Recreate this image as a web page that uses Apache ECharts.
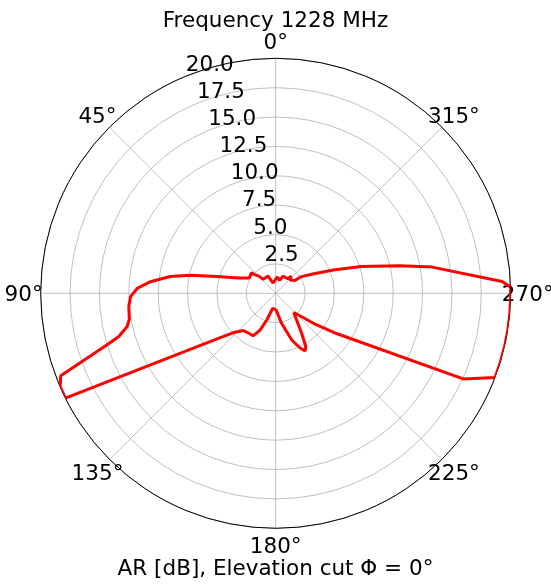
<!DOCTYPE html>
<html>
<head>
<meta charset="utf-8">
<script src="https://cdn.jsdelivr.net/npm/echarts@6/dist/echarts.min.js"></script>
<style>
html,body{margin:0;padding:0;background:#ffffff;}
#c{width:551px;height:584px;}
</style>
</head>
<body>
<div id="c"></div>
<script>
// Elevation angle (deg, counter-clockwise from top) and axial ratio (dB), clipped at 20
const angles = [0, 14, 24, 42, 44.5, 48.5, 50, 53, 60, 68, 74, 78, 81, 84.7, 88, 91.3, 95, 100, 102.6, 105.4, 107, 111, 113.5, 116.5,
  128.5, 133, 139, 145.5, 152, 157, 161.5, 169, 181, 191, 199, 204, 207, 209.5, 213, 218, 223.5, 231.5, 236.5, 245.5,
  249, 253, 257, 261, 265, 268.5, 271.5, 273, 279.5, 282.5, 287.5, 292, 297, 303, 304, 313, 318, 320, 337, 343, 354, 360];
const arValues = [1.2, 0.9, 1.6, 1.6, 2.05, 2.4, 2.7, 2.8, 2.6, 3.45, 5.2, 7.4, 9.1, 10.7, 11.8, 12.35, 12.55, 12.65, 12.95, 13.85, 15.0, 19.6, 20, 20,
  6.1, 4.9, 4.2, 4.1, 4.1, 3.4, 2.4, 1.3, 1.4, 2.6, 4.2, 5.1, 5.5, 5.2, 4.05, 2.9, 2.25, 4.1, 6.2, 17.6,
  20, 20, 20, 20, 20, 20, 20, 19.3, 13.5, 10.8, 7.6, 5.3, 3.65, 2.6, 1.95, 1.65, 1.97, 1.62, 1.59, 1.15, 1.39, 1.2];

const angleTicks = [0, 45, 90, 135, 180, 225, 270, 315];
const angleTickLabels = ['0°', '45°', '90°', '135°', '180°', '225°', '270°', '315°'];
const radiusTicks = [2.5, 5, 7.5, 10, 12.5, 15, 17.5, 20];
const radiusTickLabels = ['2.5', '5.0', '7.5', '10.0', '12.5', '15.0', '17.5', '20.0'];
const titleText = 'Frequency 1228 MHz';
const xLabelText = 'AR [dB], Elevation cut Φ = 0°';

const FONT = 'DejaVu Sans';
const FS = 21.5;
const CENTER = [275.7, 293.3];
const RADIUS = 235;
const LABEL_R = 21.45;

const chart = echarts.init(document.getElementById('c'), null, {renderer: 'canvas'});
const option = {
  animation: false,
  backgroundColor: '#ffffff',
  title: [
    {text: titleText, left: 'center', top: 5,
     textStyle: {fontFamily: FONT, fontSize: FS, fontWeight: 'normal', color: '#000'}},
    {text: xLabelText, left: 'center', top: 553,
     textStyle: {fontFamily: FONT, fontSize: FS, fontWeight: 'normal', color: '#000'}}
  ],
  polar: [
    {center: CENTER, radius: RADIUS},
    {center: CENTER, radius: RADIUS}
  ],
  angleAxis: [
    {polarIndex: 0, type: 'value', min: 0, max: 360, interval: 45, startAngle: 90, clockwise: false,
     axisLine: {show: true, lineStyle: {color: '#000', width: 1}},
     axisTick: {show: false}, axisLabel: {show: false},
     splitLine: {show: true, lineStyle: {color: '#b0b0b0', width: 0.8}}},
    {polarIndex: 1, type: 'value', min: 0, max: 360, interval: 45, startAngle: 112.5, clockwise: false,
     axisLine: {show: false}, axisTick: {show: false}, axisLabel: {show: false}, splitLine: {show: false}}
  ],
  radiusAxis: [
    {polarIndex: 0, type: 'value', min: 0, max: 20, interval: 2.5,
     axisLine: {show: false}, axisTick: {show: false}, axisLabel: {show: false},
     splitLine: {show: true, lineStyle: {color: '#b0b0b0', width: 0.8}}},
    {polarIndex: 1, type: 'value', min: 0, max: 20, interval: 2.5,
     axisLine: {show: false}, axisTick: {show: false}, splitLine: {show: false},
     axisLabel: {show: true, margin: 0, align: 'left', verticalAlign: 'bottom',
       fontFamily: FONT, fontSize: FS, color: '#000', hideOverlap: false,
       formatter: function (v) { const i = radiusTicks.indexOf(v); return i >= 0 ? radiusTickLabels[i] : ''; }}}
  ],
  series: [
    {type: 'line', coordinateSystem: 'polar', polarIndex: 0,
     data: angles.map(function (a, i) { return [arValues[i], a]; }),
     showSymbol: false, symbol: 'none', smooth: false,
     lineStyle: {color: '#ff0000', width: 3}, z: 5},
    {type: 'scatter', coordinateSystem: 'polar', polarIndex: 0, clip: false, silent: true,
     symbolSize: 0, itemStyle: {color: '#000', opacity: 1},
     data: angleTicks.map(function (a) { return [LABEL_R, a]; }),
     label: {show: true, position: 'inside', align: 'center', verticalAlign: 'middle', offset: [0, 2.5],
       fontFamily: FONT, fontSize: FS, color: '#000', opacity: 1, textBorderWidth: 0,
       formatter: function (p) { return angleTickLabels[p.dataIndex]; }}}
  ]
};
chart.setOption(option);
</script>
</body>
</html>
